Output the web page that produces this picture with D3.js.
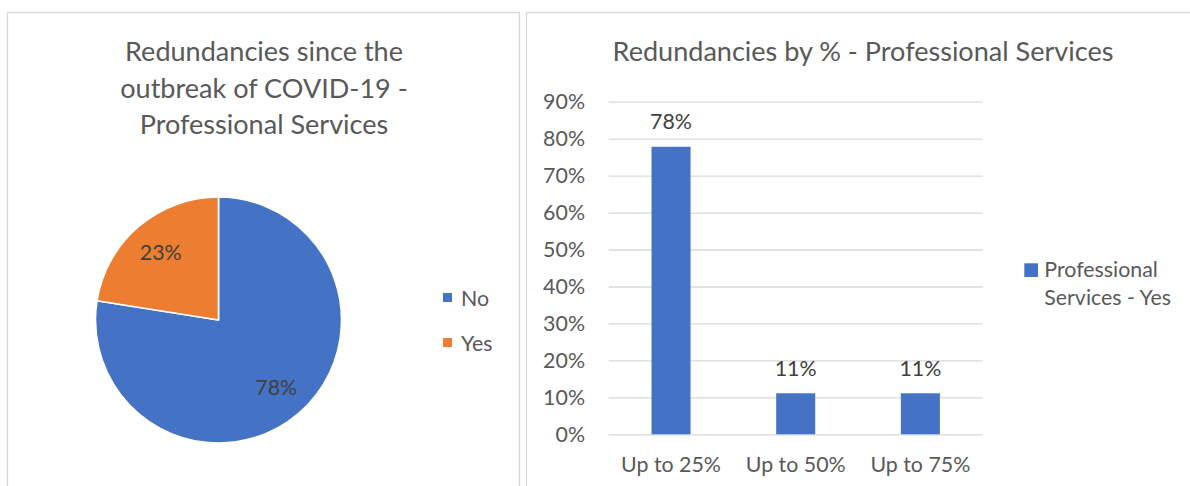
<!DOCTYPE html>
<html><head><meta charset="utf-8">
<script src="https://cdn.jsdelivr.net/npm/d3@7"></script>
<style>
body{margin:0;background:#fff;overflow:hidden}
svg{display:block}
text{font-family:Lato,"Open Sans",sans-serif}
</style>
</head><body>
<svg id="chart" width="1190" height="486"></svg>
<script>
// ---- data ----
const pieTitleLines = ["Redundancies since the", "outbreak of COVID-19 -", "Professional Services"];
const pieCategories = ["No", "Yes"];
const pieValues = [77.5, 22.5];
const pieColors = ["#4472c4", "#ed7d31"];

const barTitle = "Redundancies by % - Professional Services";
const barCategories = ["Up to 25%", "Up to 50%", "Up to 75%"];
const barValues = [77.8, 11.1, 11.1];
const barSeriesName = ["Professional", "Services - Yes"];
const barColor = "#4472c4";
const yTickValues = [0, 10, 20, 30, 40, 50, 60, 70, 80, 90];

// ---- setup ----
const svg = d3.select("#chart");
const measure = (str, size) => {
  const t = svg.append("text").attr("font-size", size).text(str);
  const w = t.node().getComputedTextLength();
  t.remove();
  return w;
};
const titleSize = 28 * 501 / measure(barTitle, 28);
const labelSize = 23 * 100 / measure("Up to 25%", 23);
const titleColor = "#595959", tickColor = "#595959", dataColor = "#404040", gridColor = "#d9d9d9";

// panel borders
const border = svg.append("g").attr("fill", "none").attr("stroke", gridColor).attr("stroke-width", 1.3);
border.append("path").attr("d", "M7.5,486V12.5H519.5V486");
border.append("path").attr("d", "M526.5,486V12.5H1192");

// ---- pie chart ----
svg.append("text")
  .attr("text-anchor", "middle").attr("fill", titleColor).attr("font-size", titleSize)
  .selectAll("tspan").data(pieTitleLines).join("tspan")
  .attr("x", 264).attr("y", (d, i) => 61 + i * 36.5).text(d => d);

const cx = 218.5, cy = 320, r = 123;
const pie = d3.pie().sort(null).value(d => d)(pieValues);
const arc = d3.arc().innerRadius(0).outerRadius(r);
const labelArc = d3.arc().innerRadius(89).outerRadius(89);
const pg = svg.append("g").attr("transform", `translate(${cx},${cy})`);
pg.selectAll("path").data(pie).join("path")
  .attr("d", arc).attr("fill", (d, i) => pieColors[i])
  .attr("stroke", "#fff").attr("stroke-width", 1.6).attr("stroke-linejoin", "round");
pg.selectAll("text").data(pie).join("text")
  .attr("transform", d => `translate(${labelArc.centroid(d)})`)
  .attr("text-anchor", "middle").attr("dy", "0.35em")
  .attr("font-size", labelSize).attr("fill", dataColor)
  .text(d => Math.round(d.data) + "%");

const pl = svg.append("g");
pieCategories.forEach((c, i) => {
  pl.append("rect").attr("x", 443).attr("y", 293 + i * 45).attr("width", 9).attr("height", 9).attr("fill", pieColors[i]);
  pl.append("text").attr("x", 461).attr("y", 305.5 + i * 45)
    .attr("font-size", labelSize).attr("fill", tickColor).text(c);
});

// ---- bar chart ----
svg.append("text").attr("x", 863).attr("y", 61).attr("text-anchor", "middle")
  .attr("fill", titleColor).attr("font-size", titleSize).text(barTitle);

const x0 = 608.7, x1 = 982.7, yBase = 434.3, yTop = 101.7;
const x = d3.scaleBand().domain(barCategories).range([x0, x1]).paddingInner(0.687).paddingOuter(0.3435);
const y = d3.scaleLinear().domain([0, 90]).range([yBase, yTop]);

const yAxis = svg.append("g").attr("transform", `translate(${x0},0)`)
  .call(d3.axisLeft(y).tickValues(yTickValues).tickSize(-(x1 - x0)).tickPadding(23.7).tickFormat(d => d + "%"));
yAxis.select(".domain").remove();
yAxis.selectAll("line").attr("stroke", gridColor).attr("stroke-width", 1.3);
yAxis.selectAll("text").attr("font-size", labelSize).attr("fill", tickColor).attr("font-family", null);

const xAxis = svg.append("g").attr("transform", `translate(0,${yBase})`)
  .call(d3.axisBottom(x).tickSize(0).tickPadding(37.5 - 0.71 * labelSize));
xAxis.select(".domain").remove();
xAxis.selectAll("text").attr("font-size", labelSize).attr("fill", tickColor).attr("font-family", null);

svg.append("g").selectAll("rect").data(barValues).join("rect")
  .attr("x", (d, i) => x(barCategories[i])).attr("width", x.bandwidth())
  .attr("y", d => y(d)).attr("height", d => yBase - y(d)).attr("fill", barColor);

svg.append("g").selectAll("text").data(barValues).join("text")
  .attr("x", (d, i) => x(barCategories[i]) + x.bandwidth() / 2)
  .attr("y", d => y(d) - 17.4).attr("text-anchor", "middle")
  .attr("font-size", labelSize).attr("fill", dataColor)
  .text(d => Math.round(d) + "%");

const bl = svg.append("g");
bl.append("rect").attr("x", 1024.3).attr("y", 263.3).attr("width", 13.7).attr("height", 13.7).attr("fill", barColor);
bl.append("text").attr("font-size", labelSize).attr("fill", tickColor)
  .selectAll("tspan").data(barSeriesName).join("tspan")
  .attr("x", 1044.3).attr("y", (d, i) => 277 + i * 28.3).text(d => d);
</script>
</body></html>
